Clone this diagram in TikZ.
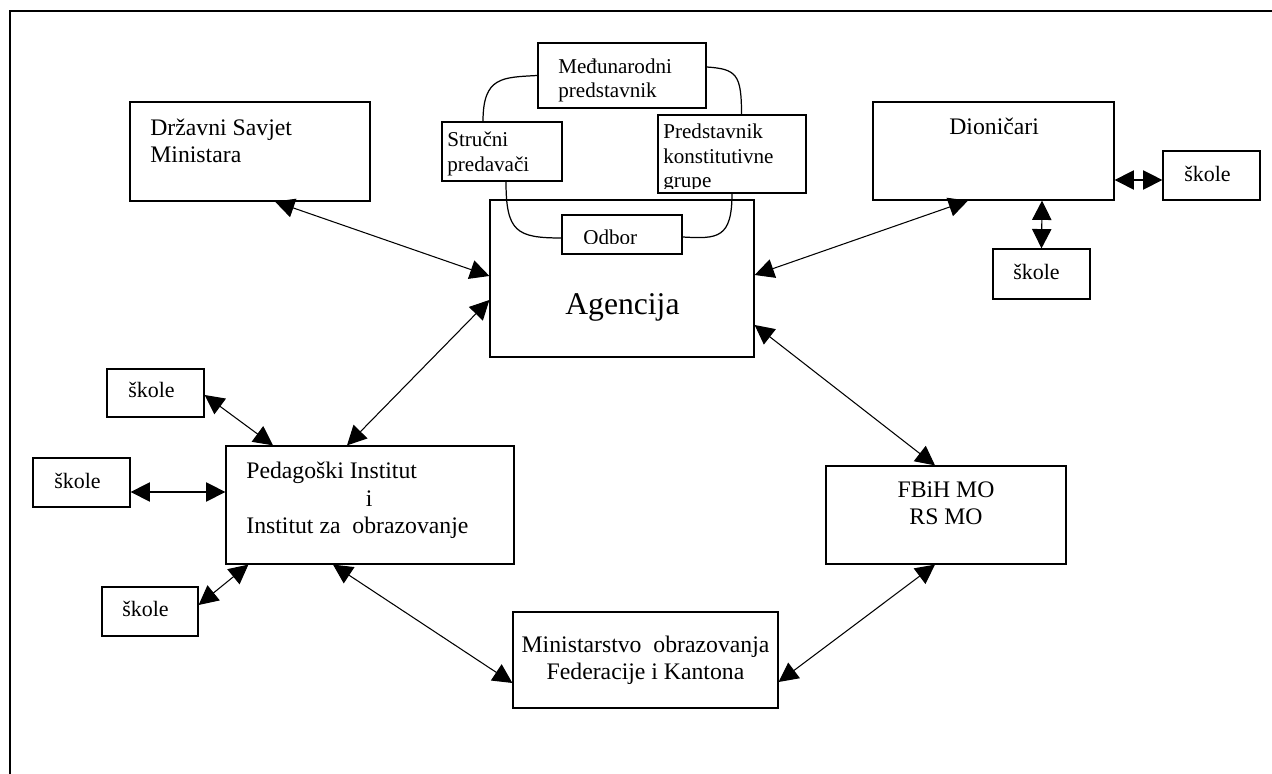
\documentclass[tikz,border=0pt]{standalone}
\usepackage{fontspec}
\setmainfont{Liberation Serif}
\usepackage{tikz}
\usetikzlibrary{arrows.meta}
\tikzset{
  box/.style={draw, line width=0.7pt, inner sep=0pt},
  bigtext/.style={font=\fontsize{13.5}{15.6}\selectfont, inner sep=0pt, align=left},
  smalltext/.style={font=\fontsize{12}{14.2}\selectfont, inner sep=0pt, align=left},
  skoletext/.style={font=\fontsize{12.5}{14}\selectfont, inner sep=0pt},
  link/.style={<->, line width=0.6pt},
  wire/.style={line width=0.7pt}
}

\begin{document}
\begin{tikzpicture}[>={Triangle[length=11pt, width=11pt]}]
    \useasboundingbox (0,0) rectangle (25.44,15.48);
    % Frame
    \draw[line width=1pt] (0.2,0) -- (0.2,15.26) -- (25.44,15.26);

    % Boxes
    \node[box, minimum width=4.8cm, minimum height=1.98cm] (dsm) at (5.0,12.45) {};
    \node[box, minimum width=3.36cm, minimum height=1.3cm] (medj) at (12.44,13.97) {};
    \node[box, minimum width=2.4cm, minimum height=1.18cm] (struc) at (10.04,12.45) {};
    \node[box, minimum width=2.96cm, minimum height=1.56cm] (pred) at (14.64,12.4) {};
    \node[box, minimum width=5.28cm, minimum height=3.14cm] (agen) at (12.44,9.91) {};
    \node[box, minimum width=2.4cm, minimum height=0.78cm] (odbor) at (12.44,10.79) {};
    \node[box, minimum width=4.82cm, minimum height=1.96cm] (dion) at (19.87,12.46) {};
    \node[box, minimum width=1.94cm, minimum height=0.98cm] (skR) at (24.23,11.97) {};
    \node[box, minimum width=1.94cm, minimum height=1.0cm] (skD) at (20.83,10.0) {};
    \node[box, minimum width=1.94cm, minimum height=0.96cm] (skL1) at (3.11,7.62) {};
    \node[box, minimum width=1.94cm, minimum height=0.98cm] (skL2) at (1.63,5.83) {};
    \node[box, minimum width=1.92cm, minimum height=0.98cm] (skL3) at (3.0,3.25) {};
    \node[box, minimum width=5.76cm, minimum height=2.36cm] (ped) at (7.4,5.38) {};
    \node[box, minimum width=4.8cm, minimum height=1.96cm] (fbih) at (18.92,5.18) {};
    \node[box, minimum width=5.3cm, minimum height=1.92cm] (mino) at (12.91,2.28) {};

    % Labels (base = last line)
    \node[bigtext, anchor=base west] (dsm-text) at (3.0,12.22) {Državni Savjet\\Ministara};
    \node[smalltext, anchor=base west] (medj-text) at (11.16,13.52) {Međunarodni\\predstavnik};
    \node[smalltext, anchor=base west] (struc-text) at (8.94,12.05) {Stručni\\predavači};
    \begin{scope}
      \clip (13.16,11.7) rectangle (16.2,13.3);
      \node[smalltext, anchor=base west] (pred-text) at (13.26,11.72) {Predstavnik\\konstitutivne\\grupe};
    \end{scope}
    \begin{scope}
      \clip (11.3,10.61) rectangle (13.6,11.1);
      \node[smalltext, anchor=base west] (odbor-text) at (11.66,10.59) {Odbor};
    \end{scope}
    \node[font=\fontsize{18}{20}\selectfont, inner sep=0pt, anchor=base west] (agen-text) at (11.3,9.18) {Agencija};
    \node[bigtext, anchor=base west] (dion-text) at (18.98,12.78) {Dioničari};
    \node[skoletext, anchor=base west] (skR-text) at (23.68,11.84) {škole};
    \node[skoletext, anchor=base west] (skD-text) at (20.26,9.88) {škole};
    \node[skoletext, anchor=base west] (skL1-text) at (2.56,7.52) {škole};
    \node[skoletext, anchor=base west] (skL2-text) at (1.08,5.7) {škole};
    \node[skoletext, anchor=base west] (skL3-text) at (2.44,3.14) {škole};
    \node[bigtext, font=\fontsize{13.5}{15.9}\selectfont, anchor=base west] (ped-text) at (4.92,4.8)
      {Pedagoški Institut\\\hspace*{68pt}i\\Institut za\ \ obrazovanje};
    \node[bigtext, align=center, anchor=base] (fbih-text) at (18.92,4.98) {FBiH MO\\RS MO};
    \node[bigtext, font=\fontsize{13.5}{15.9}\selectfont, align=center, anchor=base] (mino-text) at (12.91,1.88)
      {Ministarstvo\ \ obrazovanja\\Federacije i Kantona};

    % Odbor connections
    \draw[wire] (medj.west) .. controls +(-0.7,-0.04) and +(0,0.9) .. ([xshift=-0.38cm]struc.north);
    \draw[wire] ([yshift=0.17cm]medj.east) .. controls +(0.6,-0.04) and +(0,0.8) .. ([xshift=0.19cm]pred.north);
    \draw[wire] ([xshift=0.08cm]struc.south) .. controls +(0,-1.0) and +(-0.9,0) .. ([yshift=-0.07cm]odbor.west);
    \draw[wire] (pred.south) .. controls +(0,-0.9) and +(0.7,-0.04) .. ([yshift=-0.05cm]odbor.east);

    % Arrows
    \draw[link] ([xshift=0.5cm]dsm.south) -- ([yshift=0.05cm]agen.west);
    \draw[link] ([xshift=-0.46cm]ped.north) -- ([yshift=-0.43cm]agen.west);
    \draw[link] ([xshift=-0.51cm]dion.south) -- ([yshift=0.07cm]agen.east);
    \draw[link] ([yshift=-0.93cm]agen.east) -- ([xshift=-0.22cm]fbih.north);
    \draw[link] ([xshift=-0.22cm]fbih.south) -- ([yshift=-0.44cm]mino.east);
    \draw[link] ([xshift=-0.74cm]ped.south) -- ([yshift=-0.46cm]mino.west);
    \draw[link] ([yshift=-0.04cm]skL1.east) -- ([xshift=-1.94cm]ped.north);
    \draw[link] ([yshift=-0.19cm]skL2.east) -- ([yshift=0.26cm]ped.west);
    \draw[link] ([yshift=0.13cm]skL3.east) -- ([xshift=0.46cm]ped.south west);
    \draw[link] ([yshift=-0.58cm]dion.east) -- ([yshift=-0.58cm]dion.east -| skR.west);
    \draw[link] ([xshift=0.97cm]dion.south) -- (skD.north);
\end{tikzpicture}
\end{document}
